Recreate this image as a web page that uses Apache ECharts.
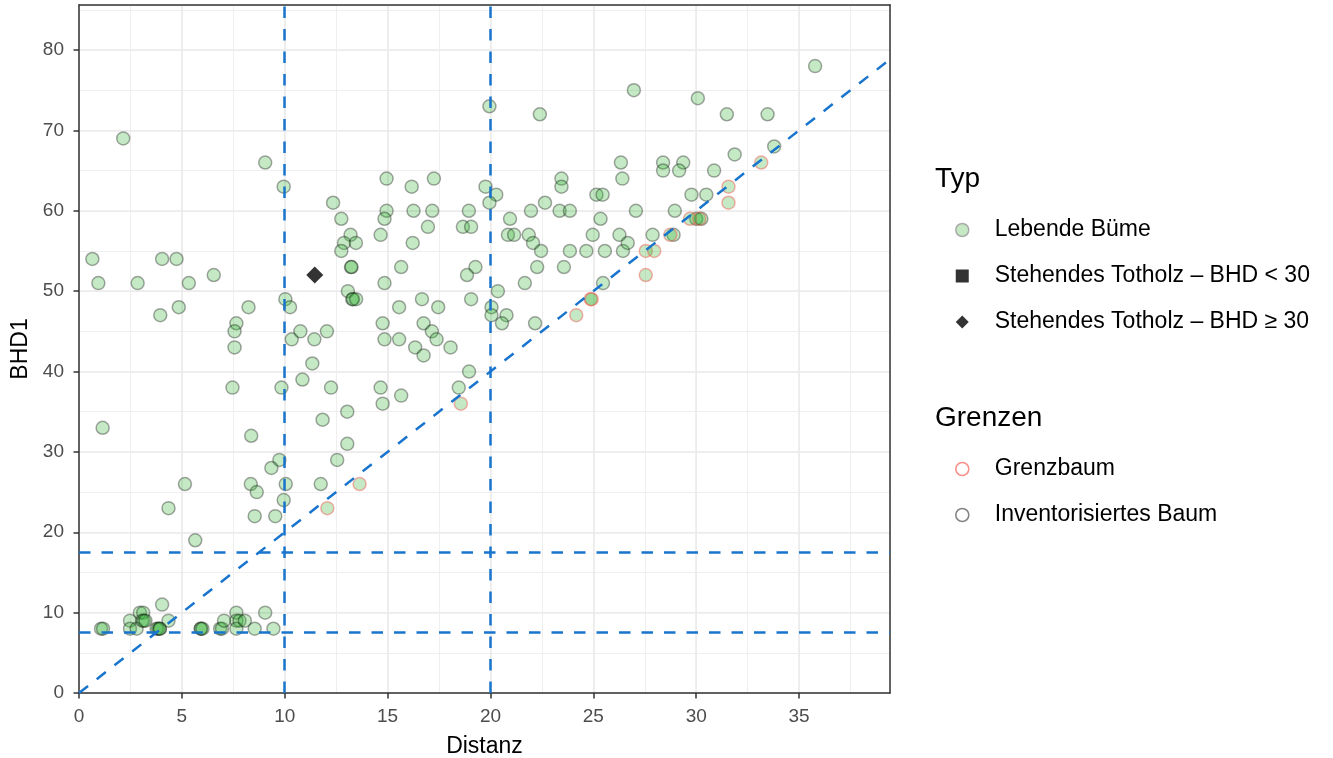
<!DOCTYPE html>
<html>
<head>
<meta charset="utf-8">
<script src="https://cdn.jsdelivr.net/npm/echarts@6/dist/echarts.min.js"></script>
<style>
  html, body { margin: 0; padding: 0; background: #fff; }
  #ch-main { width: 1333px; height: 758px; }
</style>
</head>
<body>
<div id="ch-main"></div>
<script>
// [Distanz, BHD1] - lebende Baeume, inventorisiert
let lebendInv = [
    [0.65, 54], [0.94, 51], [1.15, 33], [2.15, 69], [2.85, 51], [4.04, 54], [3.95, 47], [4.74, 54],
    [4.85, 48], [5.34, 51], [6.55, 52], [8.24, 48], [7.65, 46], [7.56, 45], [7.56, 43], [7.46, 38],
    [9.05, 66], [9.95, 63], [10.03, 49], [10.26, 48], [10.34, 44], [10.76, 45], [10.86, 39], [11.34, 41],
    [11.44, 44], [12.05, 45], [9.84, 38], [12.25, 38], [8.37, 32], [11.84, 34], [13.04, 35], [13.04, 31],
    [9.74, 29], [9.35, 28], [12.55, 29], [12.35, 61], [12.75, 59], [13.2, 57], [12.88, 56], [12.75, 55],
    [13.46, 56], [13.22, 53], [13.25, 53], [13.07, 50], [13.28, 49], [13.32, 49], [13.47, 49],
    [5.15, 26], [4.35, 23], [5.65, 19], [8.35, 26], [8.64, 25], [8.54, 22], [9.54, 22], [9.95, 24],
    [10.05, 26], [11.75, 26],
    [19.95, 73], [22.4, 72], [26.34, 66], [26.41, 64], [14.95, 64], [16.17, 63], [17.25, 64], [19.76, 63],
    [20.28, 62], [19.95, 61], [23.45, 64], [23.45, 63], [22.65, 61], [25.15, 62], [25.45, 62], [14.95, 60],
    [14.85, 59], [16.26, 60], [17.17, 60], [18.95, 60], [20.95, 59], [21.97, 60], [23.36, 60], [23.86, 60],
    [25.35, 59], [16.96, 58], [18.66, 58], [19.06, 58], [14.66, 57], [16.22, 56], [20.85, 57], [21.15, 57],
    [21.86, 57], [24.97, 57], [26.27, 57],
    [15.66, 53], [14.85, 51], [16.67, 49], [19.06, 49], [19.27, 53], [18.86, 52], [15.56, 48], [17.46, 48],
    [14.76, 46], [16.75, 46], [17.15, 45], [17.38, 44], [14.85, 44], [15.56, 44], [16.34, 43], [18.06, 43],
    [16.75, 42], [18.96, 40], [14.66, 38], [18.46, 38], [15.66, 37], [14.76, 36], [20.36, 50], [20.05, 48],
    [20.05, 47], [20.78, 47], [20.56, 46], [22.17, 46], [21.67, 51], [22.27, 53], [23.57, 53], [25.47, 51],
    [22.07, 56], [22.46, 55], [23.86, 55], [24.66, 55], [25.56, 55], [26.44, 55],
    [35.78, 78], [26.97, 75], [30.08, 74], [31.49, 72], [33.47, 72], [33.79, 68], [31.87, 67], [28.39, 66],
    [29.37, 66], [28.39, 65], [29.17, 65], [30.87, 65], [29.77, 62], [30.49, 62], [27.07, 60], [28.96, 60],
    [30.0, 59], [30.25, 59], [27.88, 57], [28.9, 57], [26.67, 56],
    [1.07, 8], [1.17, 8], [2.48, 9], [2.48, 8], [2.8, 8], [2.96, 10], [3.12, 10], [3.07, 9],
    [3.15, 9], [3.23, 9], [3.77, 8], [3.85, 8], [3.93, 8], [3.93, 8], [4.04, 11], [4.35, 9],
    [5.92, 8], [5.92, 8], [6.0, 8], [6.86, 8], [6.95, 8], [7.05, 9], [7.65, 10], [7.65, 9],
    [7.8, 9], [7.65, 8], [8.06, 9], [8.54, 8], [9.05, 10], [9.45, 8]
]

// lebende Baeume an der Grenze
let lebendGrenz = [
    [12.07, 23], [13.64, 26], [18.56, 36], [24.17, 47], [24.87, 49], [24.92, 49], [27.55, 52], [27.55, 55],
    [27.96, 55], [28.74, 57], [29.7, 59], [30.15, 59], [31.57, 61], [31.57, 63], [33.16, 66]
]

let totholzGross = [[11.46, 52]]
let totholzKlein = []

// Hilfslinien
let vLinien = [10, 20]
let hLinien = [7.5, 17.5]
let steigung = 2

let xTicks = [0, 5, 10, 15, 20, 25, 30, 35]
let yTicks = [0, 10, 20, 30, 40, 50, 60, 70, 80]
let xMax = 39.42
let yMax = 85.6

let main = echarts.init(document.getElementById('ch-main'));

const font = 'Liberation Sans';
const gridColor = '#EBEBEB';
const frame = { show: true, onZero: false, lineStyle: { color: '#333333', width: 1.5 } };
const fillGreen = 'rgba(50, 180, 50, 0.36)';
const blue = '#1874CD';

let refLines = [];
vLinien.forEach(v => refLines.push({ xAxis: v }));
hLinien.forEach(h => refLines.push({ yAxis: h }));
refLines.push([{ coord: [0, 0] }, { coord: [xMax, steigung * xMax] }]);

let option = {
    animation: false,
    textStyle: { fontFamily: font },
    grid: {
        left: 79, right: 443, top: 5, bottom: 65, outerBoundsMode: 'none', containLabel: false,
        show: true, backgroundColor: '#fff', borderWidth: 0
    },
    xAxis: [
        {
            type: 'value', min: 0, max: xMax, interval: 5,
            name: 'Distanz', nameLocation: 'middle', nameGap: 42,
            nameTextStyle: { fontSize: 23, color: '#000', fontFamily: font },
            axisLine: frame,
            axisTick: { show: true, length: 5.5, customValues: xTicks, lineStyle: { color: '#333', width: 1.5 } },
            axisLabel: { fontSize: 19, color: '#4D4D4D', margin: 14, customValues: xTicks, fontFamily: font },
            splitLine: { lineStyle: { color: gridColor, width: 1.6 } }
        },
        {
            // minor grid + top frame
            type: 'value', position: 'top', min: 0, max: xMax, interval: 2.5,
            axisLine: frame, axisTick: { show: false }, axisLabel: { show: false },
            splitLine: { lineStyle: { color: gridColor, width: 0.8 } }
        }
    ],
    yAxis: [
        {
            type: 'value', min: 0, max: yMax, interval: 10,
            name: 'BHD1', nameLocation: 'middle', nameGap: 47,
            nameTextStyle: { fontSize: 23, color: '#000', fontFamily: font },
            axisLine: frame,
            axisTick: { show: true, length: 5.5, customValues: yTicks, lineStyle: { color: '#333', width: 1.5 } },
            axisLabel: { fontSize: 19, color: '#4D4D4D', margin: 15, customValues: yTicks, fontFamily: font },
            splitLine: { lineStyle: { color: gridColor, width: 1.6 } }
        },
        {
            type: 'value', position: 'right', min: 0, max: yMax, interval: 5,
            axisLine: frame, axisTick: { show: false }, axisLabel: { show: false },
            splitLine: { lineStyle: { color: gridColor, width: 0.8 } }
        }
    ],
    legend: [
        {
            orient: 'vertical', left: 950, top: 211, itemGap: 18, itemWidth: 13, itemHeight: 13,
            selectedMode: false,
            textStyle: { fontSize: 23, color: '#000', fontFamily: font, lineHeight: 28, padding: [0, 0, 0, 21] },
            data: [
                { name: 'Lebende Büme', icon: 'circle', itemStyle: { color: '#B8E2B6', borderColor: '#9A9A9A', borderWidth: 1.5 } },
                { name: 'Stehendes Totholz – BHD < 30', icon: 'rect', itemStyle: { color: '#000' } },
                { name: 'Stehendes Totholz – BHD ≥ 30', icon: 'diamond', itemStyle: { color: '#000' } }
            ]
        },
        {
            orient: 'vertical', left: 950, top: 450, itemGap: 18, itemWidth: 13, itemHeight: 13,
            selectedMode: false,
            textStyle: { fontSize: 23, color: '#000', fontFamily: font, lineHeight: 28, padding: [0, 0, 0, 21] },
            data: [
                { name: 'Grenzbaum', icon: 'circle', itemStyle: { color: '#fff', borderColor: '#F8766D', borderWidth: 1.6 } },
                { name: 'Inventorisiertes Baum', icon: 'circle', itemStyle: { color: '#fff', borderColor: '#666', borderWidth: 1.6 } }
            ]
        }
    ],
    graphic: [
        { type: 'text', left: 935, top: 165, style: { text: 'Typ', fontSize: 28, fontFamily: font, fill: '#000' } },
        { type: 'text', left: 935, top: 404, style: { text: 'Grenzen', fontSize: 28, fontFamily: font, fill: '#000' } }
    ],
    series: [
        {
            name: 'Inventorisiertes Baum', type: 'scatter', data: lebendInv, symbolSize: 13,
            itemStyle: { color: fillGreen, borderColor: 'rgba(0, 0, 0, 0.42)', borderWidth: 1.5 },
            emphasis: { disabled: true }
        },
        {
            name: 'Grenzbaum', type: 'scatter', data: lebendGrenz, symbolSize: 13,
            itemStyle: { color: fillGreen, borderColor: 'rgba(245, 80, 75, 0.55)', borderWidth: 1.5 },
            emphasis: { disabled: true }
        },
        {
            name: 'Stehendes Totholz – BHD ≥ 30', type: 'scatter', data: totholzGross, symbol: 'diamond', symbolSize: 17,
            itemStyle: { color: '#000' }
        },
        {
            name: 'Stehendes Totholz – BHD < 30', type: 'scatter', data: totholzKlein, symbol: 'rect', symbolSize: 11,
            itemStyle: { color: '#000' }
        },
        {
            name: 'Lebende Büme', type: 'scatter', data: [], symbolSize: 13,
            itemStyle: { color: fillGreen, borderColor: 'rgba(0, 0, 0, 0.4)' }
        },
        {
            name: 'Referenz', type: 'scatter', data: [], z: 5, silent: true,
            markLine: {
                silent: true, symbol: ['none', 'none'], animation: false,
                label: { show: false },
                lineStyle: { color: blue, width: 2.5, type: [11.5, 11] },
                data: refLines
            }
        }
    ]
};

main.setOption(option);
</script>
</body>
</html>
